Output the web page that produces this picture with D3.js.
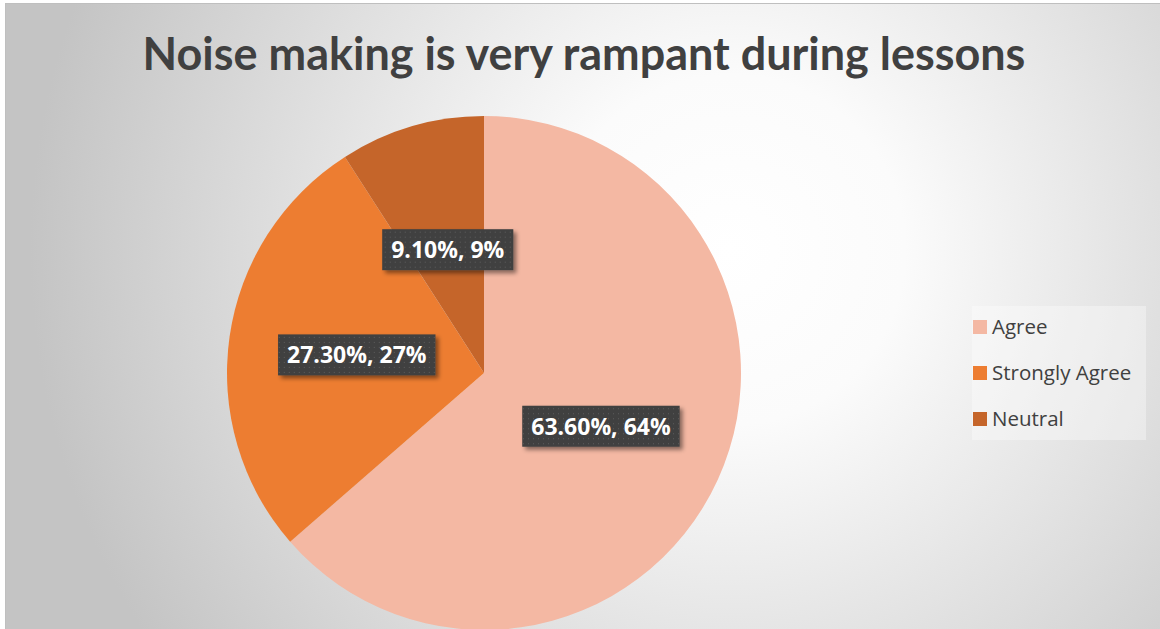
<!DOCTYPE html>
<html>
<head>
<meta charset="utf-8">
<script src="https://cdn.jsdelivr.net/npm/d3@7"></script>
<style>
  html, body { margin: 0; padding: 0; background: #ffffff; }
  svg { display: block; }
</style>
</head>
<body>
<svg id="chart" width="1160" height="629"></svg>
<script>
// Survey responses: "Noise making is very rampant during lessons"
const title = "Noise making is very rampant during lessons";
const categories = ["Agree", "Strongly Agree", "Neutral"];
const values = [63.6, 27.3, 9.1];
const colors = ["#F4B8A3", "#ED7D31", "#C5652A"];

const width = 1160, height = 629;
const svg = d3.select("#chart");
const defs = svg.append("defs");

// Background: radial gradient, pale in the middle, grey toward the edges
const bg = defs.append("radialGradient")
  .attr("id", "bgGrad")
  .attr("gradientUnits", "userSpaceOnUse")
  .attr("cx", 730).attr("cy", 250).attr("r", 700);
bg.append("stop").attr("offset", "0%").attr("stop-color", "#ffffff");
bg.append("stop").attr("offset", "25%").attr("stop-color", "#fbfbfb");
bg.append("stop").attr("offset", "100%").attr("stop-color", "#c4c4c4");

// Dotted texture for the data label boxes
const pat = defs.append("pattern")
  .attr("id", "dots")
  .attr("patternUnits", "userSpaceOnUse")
  .attr("width", 5).attr("height", 5);
pat.append("rect").attr("width", 5).attr("height", 5).attr("fill", "#404040");
pat.append("rect").attr("x", 2).attr("y", 2).attr("width", 1).attr("height", 1).attr("fill", "#5c5c5c");

// Soft drop shadow for the label boxes
const shadow = defs.append("filter").attr("id", "shadow")
  .attr("x", "-20%").attr("y", "-40%").attr("width", "140%").attr("height", "180%");
shadow.append("feDropShadow")
  .attr("dx", 3).attr("dy", 3).attr("stdDeviation", 2)
  .attr("flood-color", "#000").attr("flood-opacity", 0.45);

svg.append("rect")
  .attr("x", 5.5).attr("y", 3.5)
  .attr("width", width).attr("height", height)
  .attr("fill", "url(#bgGrad)")
  .attr("stroke", "#bfbfbf").attr("stroke-width", 1);

// Title, fitted to its target width
const titleText = svg.append("text")
  .attr("x", 584).attr("y", 70)
  .attr("text-anchor", "middle")
  .attr("font-family", "Lato, 'Open Sans', sans-serif")
  .attr("font-weight", "bold")
  .attr("font-size", 40)
  .attr("fill", "#404040")
  .text(title);
const tw = titleText.node().getComputedTextLength();
titleText.attr("font-size", 40 * 883 / tw);

// Pie
const cx = 484, cy = 373, R = 257;
const pie = d3.pie().sort(null).value(d => d.value);
const arcs = pie(categories.map((c, i) => ({ name: c, value: values[i], color: colors[i] })));
const arc = d3.arc().innerRadius(0).outerRadius(R);
const labelArc = d3.arc().innerRadius(R * 0.5).outerRadius(R * 0.5);

const g = svg.append("g").attr("transform", `translate(${cx},${cy})`);
g.selectAll("path.slice")
  .data(arcs)
  .join("path")
  .attr("class", "slice")
  .attr("d", arc)
  .attr("fill", d => d.data.color);

// Data labels: "value%, rounded share%"
const total = d3.sum(values);
const labels = g.selectAll("g.lbl")
  .data(arcs)
  .join("g")
  .attr("class", "lbl")
  .attr("transform", d => {
    const [x, y] = labelArc.centroid(d);
    return `translate(${x},${y})`;
  });

labels.each(function(d) {
  const sel = d3.select(this);
  const txt = `${d.data.value.toFixed(2)}%, ${Math.round(d.data.value / total * 100)}%`;
  const rect = sel.append("rect").attr("fill", "url(#dots)").attr("filter", "url(#shadow)");
  const t = sel.append("text")
    .attr("text-anchor", "middle")
    .attr("dy", "0.36em")
    .attr("font-family", "'Open Sans', Lato, sans-serif")
    .attr("font-weight", "bold")
    .attr("font-size", 23)
    .attr("fill", "#ffffff")
    .text(txt);
  const w = t.node().getComputedTextLength();
  const padX = 9, h = 41;
  rect.attr("x", -w / 2 - padX).attr("y", -h / 2)
      .attr("width", w + 2 * padX).attr("height", h);
});

// Legend
const legend = svg.append("g").attr("transform", "translate(972,306)");
legend.append("rect")
  .attr("width", 174).attr("height", 134)
  .attr("fill", "#ffffff").attr("fill-opacity", 0.35);
const items = legend.selectAll("g.item")
  .data(categories)
  .join("g")
  .attr("class", "item")
  .attr("transform", (d, i) => `translate(0,${21 + i * 46})`);
items.append("rect")
  .attr("x", 1).attr("y", -7)
  .attr("width", 14).attr("height", 14)
  .attr("fill", (d, i) => colors[i]);
items.append("text")
  .attr("x", 20).attr("dy", "0.35em")
  .attr("font-family", "'Open Sans', Lato, sans-serif")
  .attr("font-size", 20.5)
  .attr("fill", "#404040")
  .text(d => d);
</script>
</body>
</html>
